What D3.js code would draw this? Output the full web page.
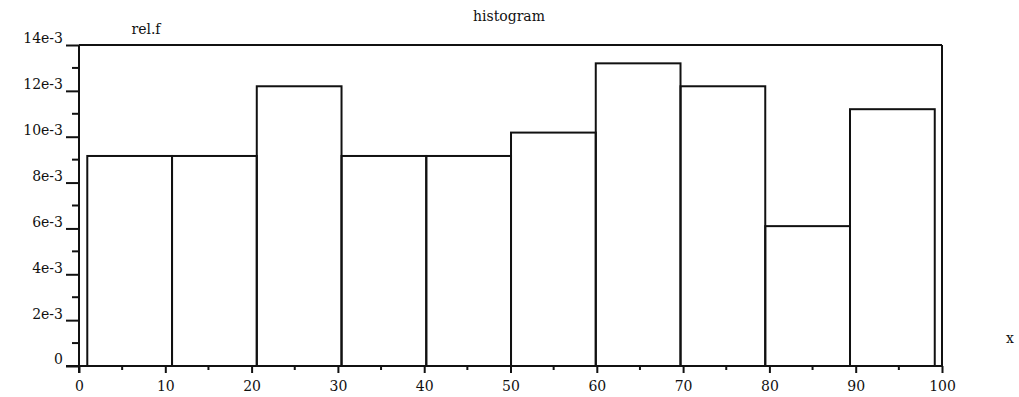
<!DOCTYPE html>
<html>
<head>
<meta charset="utf-8">
<script src="https://cdn.jsdelivr.net/npm/d3@7"></script>
<style>
  body { margin: 0; background: #fff; }
  svg text { font-family: "DejaVu Serif", serif; fill: #111; }
</style>
</head>
<body>
<div id="chart"></div>
<script>
// bin edges (10 classes, min..max of the sample)
const binEdges = [0.96, 10.78, 20.6, 30.42, 40.24, 50.06, 59.88, 69.7, 79.52, 89.34, 99.16];
// relative frequency density per bin
const relFreq = [9.16e-3, 9.16e-3, 12.2e-3, 9.16e-3, 9.16e-3, 10.18e-3, 13.2e-3, 12.2e-3, 6.1e-3, 11.2e-3];
const xTicks = [0, 10, 20, 30, 40, 50, 60, 70, 80, 90, 100];
const yTicks = [0, 2e-3, 4e-3, 6e-3, 8e-3, 10e-3, 12e-3, 14e-3];
const yTickLabels = ['0', '2e-3', '4e-3', '6e-3', '8e-3', '10e-3', '12e-3', '14e-3'];

const W = 1019, H = 397;
const margin = { top: 45, right: 77, bottom: 31, left: 79 };
const font = '"DejaVu Serif", serif';

const svg = d3.select('#chart').append('svg')
    .attr('width', W)
    .attr('height', H);

const x = d3.scaleLinear().domain([0, 100]).range([margin.left, W - margin.right]);
const y = d3.scaleLinear().domain([0, 14e-3]).range([H - margin.bottom, margin.top]);

const ink = '#111';
const sw = 2;

// bars
const bins = relFreq.map((v, i) => ({ x0: binEdges[i], x1: binEdges[i + 1], v }));
svg.append('g').selectAll('rect')
    .data(bins)
    .enter().append('rect')
    .attr('x', d => x(d.x0))
    .attr('y', d => y(d.v))
    .attr('width', d => x(d.x1) - x(d.x0))
    .attr('height', d => y(0) - y(d.v))
    .attr('fill', 'none')
    .attr('stroke', ink)
    .attr('stroke-width', sw);

// frame top and right
svg.append('line')
    .attr('x1', x(0)).attr('x2', x(100))
    .attr('y1', y(14e-3)).attr('y2', y(14e-3))
    .attr('stroke', ink).attr('stroke-width', sw);
svg.append('line')
    .attr('x1', x(100)).attr('x2', x(100))
    .attr('y1', y(14e-3)).attr('y2', y(0))
    .attr('stroke', ink).attr('stroke-width', sw);

// x axis
const xAxis = svg.append('g')
    .attr('transform', `translate(0,${y(0)})`)
    .call(d3.axisBottom(x).tickValues(xTicks).tickSize(7).tickPadding(8).tickFormat(d3.format('d')));
xAxis.append('g').selectAll('line')
    .data(d3.range(5, 100, 10))
    .enter().append('line')
    .attr('x1', d => x(d)).attr('x2', d => x(d))
    .attr('y1', 0).attr('y2', 4)
    .attr('stroke', ink).attr('stroke-width', sw);

// y axis
const yAxis = svg.append('g')
    .attr('transform', `translate(${x(0)},0)`)
    .call(d3.axisLeft(y).tickValues(yTicks).tickSize(13).tickPadding(3)
        .tickFormat((d, i) => yTickLabels[i]));
yAxis.append('g').selectAll('line')
    .data(d3.range(1e-3, 14e-3, 2e-3))
    .enter().append('line')
    .attr('x1', 0).attr('x2', -7)
    .attr('y1', d => y(d)).attr('y2', d => y(d))
    .attr('stroke', ink).attr('stroke-width', sw);

[xAxis, yAxis].forEach(g => {
    g.attr('font-family', font).attr('font-size', 14);
    g.select('.domain').attr('stroke', ink).attr('stroke-width', sw);
    g.selectAll('.tick line').attr('stroke', ink).attr('stroke-width', sw);
    g.selectAll('.tick text').attr('fill', ink);
});
yAxis.select('.domain').attr('d', `M0,${y(14e-3)}V${y(0) + 7}`);
yAxis.selectAll('.tick text').attr('dy', '-0.15em');
xAxis.select('.domain').attr('d', `M${x(0) - 13},0H${x(100)}`);

// titles
const label = (tx, ty, s) => svg.append('text')
    .attr('x', tx).attr('y', ty)
    .attr('text-anchor', 'middle')
    .attr('font-family', font)
    .attr('font-size', 14)
    .text(s);
label(509, 21, 'histogram');
label(146, 34, 'rel.f');
label(1010, 343, 'x');
</script>
</body>
</html>
